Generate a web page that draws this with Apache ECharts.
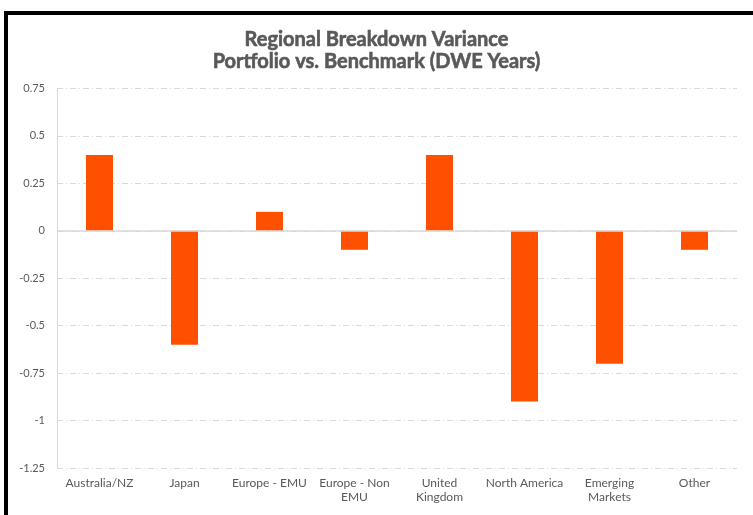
<!DOCTYPE html>
<html><head><meta charset="utf-8">
<script src="https://cdn.jsdelivr.net/npm/echarts@6/dist/echarts.min.js"></script>
<style>
html,body{margin:0;padding:0;background:#fff;}
#frame{position:absolute;left:4px;top:11px;width:760px;height:520px;border-left:4px solid #000;border-top:4px solid #000;box-sizing:border-box;}
#c{position:absolute;left:0;top:0;width:753px;height:515px;}
</style></head>
<body>
<div id="frame"></div>
<div id="c"></div>
<script>
const categories = ['Australia/NZ','Japan','Europe - EMU','Europe - Non\nEMU','United\nKingdom','North America','Emerging\nMarkets','Other'];
const variance = [0.4, -0.6, 0.1, -0.1, 0.4, -0.9, -0.7, -0.1];
const titleLines = 'Regional Breakdown Variance\nPortfolio vs. Benchmark (DWE Years)';

const chart = echarts.init(document.getElementById('c'), null, {renderer:'canvas'});
chart.setOption({
  animation:false,
  backgroundColor:'transparent',
  textStyle:{fontFamily:'Lato'},
  title:{
    text:titleLines,
    left:'center', top:24,
    textStyle:{fontFamily:'Lato', fontWeight:'bold', fontSize:20, color:'#595959', lineHeight:22,
      textBorderColor:'#595959', textBorderWidth:0.6}
  },
  grid:{left:57, right:16, top:88.5, bottom:47, containLabel:false},
  xAxis:{
    type:'category', data:categories,
    axisLine:{show:false}, axisTick:{show:false},
    axisLabel:{color:'#595959', fontSize:12, fontFamily:'Lato', interval:0, margin:8, lineHeight:14}
  },
  yAxis:{
    type:'value', min:-1.25, max:0.75, interval:0.25,
    axisLine:{show:true, lineStyle:{color:'#d9d9d9'}},
    axisTick:{show:false},
    axisLabel:{color:'#595959', fontSize:11, fontFamily:'Lato', margin:12},
    splitLine:{show:true, lineStyle:{color:'#d9d9d9', type:[6,3,1,3], width:1}}
  },
  series:[{
    type:'bar', data:variance, barWidth:27,
    itemStyle:{color:'#FF5000'},
    markLine:{
      silent:true, symbol:'none', label:{show:false},
      lineStyle:{color:'#d9d9d9', type:'solid', width:1.5},
      data:[{yAxis:0}]
    }
  }]
});
</script>
</body></html>
